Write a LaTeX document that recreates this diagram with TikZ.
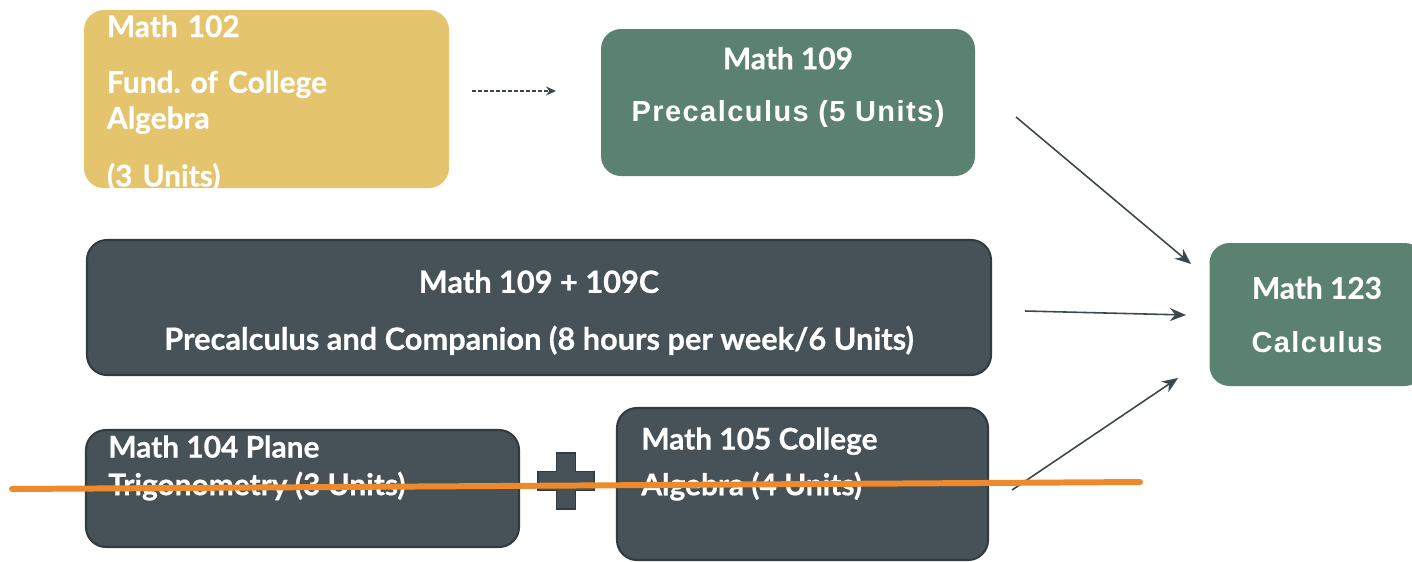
\documentclass[tikz,border=0pt]{standalone}
\usepackage{fontspec}
\setmainfont{Lato}[BoldFeatures={FakeBold=0.6}]
\newfontfamily\widefont[LetterSpace=5]{Liberation Sans}
\usepackage{tikz}
\usetikzlibrary{arrows.meta,positioning,calc}
\definecolor{mustard}{RGB}{229,196,110}
\definecolor{sagegreen}{RGB}{91,129,112}
\definecolor{slatefill}{RGB}{70,82,88}
\definecolor{slateline}{RGB}{50,60,64}
\definecolor{arrowgrey}{RGB}{60,71,77}
\definecolor{strikeorange}{RGB}{238,138,44}
\frenchspacing
\tikzset{
  base/.style={font=\fontsize{17}{20.4}\selectfont\bfseries, text=white, inner sep=0pt},
  box/.style={base, rectangle, rounded corners=0.4cm, align=center},
  gold/.style={box, fill=mustard},
  green/.style={box, fill=sagegreen},
  slate/.style={box, fill=slatefill, draw=slateline, line width=1.2pt},
  txt/.style={base, align=left, anchor=north west},
  ctxt/.style={base, align=center},
  arr/.style={-{Stealth[length=3.2mm,width=2.6mm]}, line width=0.9pt, draw=arrowgrey},
  arrd/.style={-{Stealth[length=2mm,width=1.8mm]}, line width=0.7pt, draw=arrowgrey, dash pattern=on 2.2pt off 1.2pt},
  strike/.style={line width=3.4pt, draw=strikeorange, line cap=round},
}

\begin{document}
\begin{tikzpicture}
  \clip (0,0) rectangle (28.24,-11.22);
  \useasboundingbox (0,0) rectangle (28.24,-11.22);
  % course boxes
  \node[gold,minimum width=7.30cm,minimum height=3.56cm] (m102) at (5.33,-1.98) {};
  \node[green,minimum width=7.48cm,minimum height=2.94cm] (m109) at (15.76,-2.05) {};
  \node[slate,minimum width=18.08cm,minimum height=2.70cm] (m109c) at (10.78,-6.15) {};
  \node[slate,minimum width=8.66cm,minimum height=2.34cm] (m104) at (6.05,-9.77) {};
  \node[slate,minimum width=7.42cm,minimum height=3.04cm] (m105) at (16.05,-9.68) {};
  \node[green,minimum width=4.30cm,minimum height=2.86cm] (m123) at (26.34,-6.29)
    {Math 123\\[10pt]{\fontsize{16.5}{20}\widefont\bfseries Calculus}};
  % texts
  \node[ctxt,text width=6.38cm,align=left] (m102t) at ($(m102)+(0,-0.08)$)
    {Math 102\\[11.3pt]Fund. of College\\Algebra\\[12.5pt](3 Units)};
  \node[ctxt] (m109t) at ($(m109)+(0,0.30)$)
    {Math 109\\[9.6pt]{\fontsize{16.5}{20}\widefont\bfseries Precalculus (5 Units)}};
  \node[ctxt] (m109ct) at ($(m109c)+(0,-0.10)$)
    {\fontsize{17.5}{20.4}\selectfont Math 109 + 109C\\[12pt]\fontsize{17.5}{20.4}\selectfont Precalculus and Companion (8 hours per week/6 Units)};
  \node[txt] (m104t) at (2.16,-8.70) {Math 104 Plane\\[1pt]Trigonometry (3 Units)};
  \node[txt] (m105t) at (12.82,-8.54) {Math 105 College\\[5.6pt]Algebra (4 Units)};
  % plus between 104 and 105
  \draw[fill=slatefill, draw=slateline, line width=1pt]
    (11.13,-9.43) -- (11.13,-9.06) -- (11.51,-9.06) -- (11.51,-9.43) -- (11.88,-9.43) -- (11.88,-9.81)
    -- (11.51,-9.81) -- (11.51,-10.18) -- (11.13,-10.18) -- (11.13,-9.81) -- (10.76,-9.81) -- (10.76,-9.43) -- cycle;
  % connectors
  \coordinate (d1) at (9.44,-1.82);
  \coordinate (d2) at (11.12,-1.82);
  \coordinate (a1) at (20.32,-2.34);
  \coordinate (b1) at (23.82,-5.28);
  \coordinate (a2) at (20.50,-6.22);
  \coordinate (b2) at (23.72,-6.30);
  \coordinate (a3) at (20.24,-9.80);
  \coordinate (b3) at (23.56,-7.56);
  \draw[arrd] (d1) -- (d2);
  \foreach \a/\b in {a1/b1,a2/b2,a3/b3}{\draw[arr] (\a) -- (\b);}
  % crossed out
  \coordinate (s1) at (0.24,-9.78);
  \coordinate (s2) at (22.80,-9.64);
  \draw[strike] (s1) -- (s2);
\end{tikzpicture}
\end{document}
